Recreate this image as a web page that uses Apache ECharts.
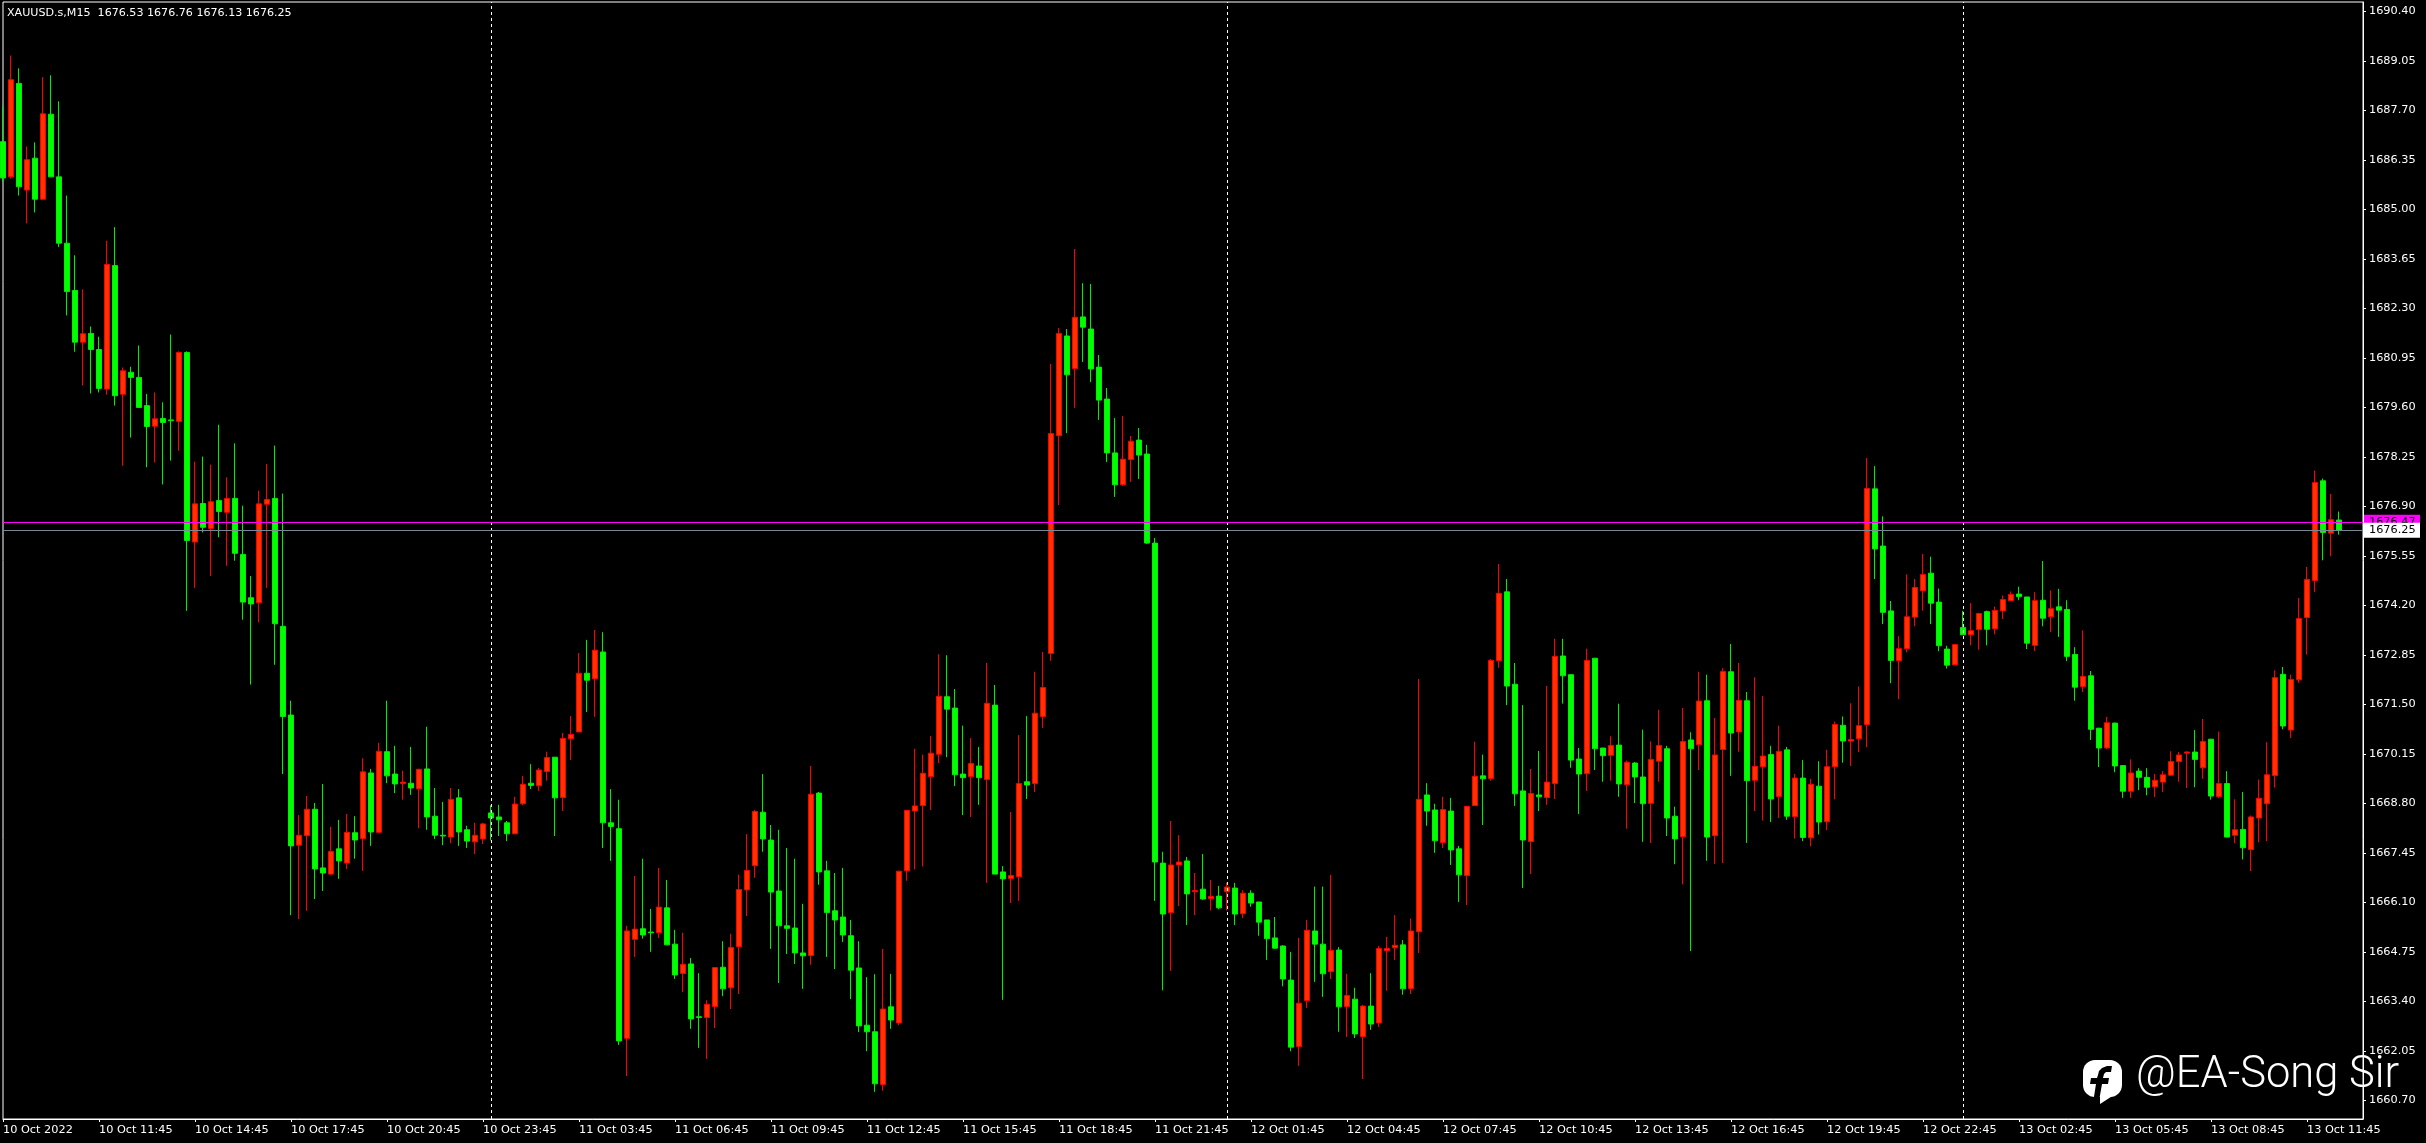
<!DOCTYPE html>
<html>
<head>
<meta charset="utf-8">
<style>html,body{margin:0;padding:0;background:#000}#c{width:2426px;height:1143px}</style>
<script src="https://cdn.jsdelivr.net/npm/echarts@6/dist/echarts.min.js"></script>
</head>
<body>
<div id="c"></div>
<script>
const tickLabels = ['10 Oct 2022','10 Oct 11:45','10 Oct 14:45','10 Oct 17:45','10 Oct 20:45','10 Oct 23:45','11 Oct 03:45','11 Oct 06:45','11 Oct 09:45','11 Oct 12:45','11 Oct 15:45','11 Oct 18:45','11 Oct 21:45','12 Oct 01:45','12 Oct 04:45','12 Oct 07:45','12 Oct 10:45','12 Oct 13:45','12 Oct 16:45','12 Oct 19:45','12 Oct 22:45','13 Oct 02:45','13 Oct 05:45','13 Oct 08:45','13 Oct 11:45'];
const priceTicks = [1660.70,1662.05,1663.40,1664.75,1666.10,1667.45,1668.80,1670.15,1671.50,1672.85,1674.20,1675.55,1676.90,1678.25,1679.60,1680.95,1682.30,1683.65,1685.00,1686.35,1687.70,1689.05,1690.40];
const opens = [1686.85,1685.89,1688.44,1685.53,1686.40,1685.28,1687.60,1685.89,1684.08,1682.79,
1681.38,1681.62,1681.18,1680.10,1683.47,1679.96,1680.56,1680.42,1679.65,1679.09,
1679.30,1679.26,1679.22,1681.10,1675.93,1676.98,1676.30,1677.06,1676.74,1677.12,
1675.59,1674.41,1674.27,1676.96,1677.12,1673.63,1671.21,1667.66,1667.92,1668.64,
1667.04,1666.87,1667.56,1667.17,1668.00,1667.84,1669.63,1668.01,1670.21,1669.60,
1669.34,1669.35,1669.20,1669.74,1668.45,1667.93,1667.88,1668.95,1668.08,1667.75,
1667.83,1668.54,1668.43,1668.27,1667.97,1668.79,1669.35,1669.28,1669.67,1670.06,
1668.96,1670.56,1670.75,1672.35,1672.20,1672.93,1668.27,1668.11,1662.39,1665.09,
1665.38,1665.29,1665.27,1665.95,1664.96,1664.16,1664.42,1662.98,1662.96,1663.26,
1664.33,1663.77,1664.89,1666.44,1667.10,1668.56,1667.80,1666.41,1665.46,1665.40,
1664.72,1664.65,1669.08,1666.96,1665.87,1665.70,1665.19,1664.31,1662.75,1662.57,
1661.13,1663.25,1662.81,1666.96,1668.59,1668.74,1669.53,1670.14,1671.71,1671.40,
1669.60,1669.53,1669.82,1669.45,1671.48,1666.93,1666.75,1666.80,1669.39,1669.34,
1671.17,1672.89,1678.83,1681.55,1680.66,1682.07,1681.74,1680.70,1679.83,1678.36,
1677.49,1678.18,1678.71,1678.33,1675.90,1667.17,1665.82,1667.12,1667.23,1666.39,
1666.46,1666.20,1666.27,1666.39,1666.49,1665.79,1666.35,1666.11,1665.62,1665.13,
1664.91,1663.98,1662.17,1663.42,1665.32,1664.96,1664.21,1664.80,1663.26,1663.46,
1662.44,1663.27,1662.81,1664.78,1664.86,1664.94,1663.75,1665.30,1669.03,1668.62,
1667.73,1668.59,1667.56,1666.83,1668.74,1669.55,1669.48,1672.69,1674.57,1672.05,
1669.14,1667.76,1669.03,1668.96,1669.34,1672.82,1672.31,1670.01,1669.61,1672.76,
1670.31,1670.11,1670.39,1669.31,1669.90,1669.52,1668.80,1669.95,1670.29,1668.45,
1667.89,1670.53,1670.40,1671.60,1667.92,1670.27,1672.39,1670.75,1671.60,1669.43,
1669.80,1670.13,1668.99,1670.26,1668.44,1669.49,1667.86,1669.27,1668.30,1669.80,
1670.93,1670.50,1670.56,1670.95,1677.38,1675.82,1674.05,1672.69,1673.02,1673.88,
1674.60,1675.08,1674.29,1673.01,1672.58,1673.60,1673.40,1673.54,1674.03,1673.56,
1674.05,1674.33,1674.51,1674.43,1673.11,1674.34,1673.89,1674.16,1674.09,1672.86,
1671.99,1672.28,1670.85,1670.31,1670.99,1669.83,1669.13,1669.68,1669.51,1669.25,
1669.38,1669.57,1669.94,1670.17,1670.20,1669.77,1670.55,1668.99,1669.34,1667.93,
1668.09,1667.54,1668.40,1668.79,1669.56,1672.32,1670.80,1672.17,1673.87,1674.88,
1677.60,1676.17,1676.53];
const closes = [1685.86,1688.54,1685.62,1686.36,1685.28,1687.61,1685.89,1684.08,1682.76,1681.38,
1681.61,1681.18,1680.12,1683.50,1679.92,1680.60,1680.42,1679.60,1679.08,1679.29,
1679.19,1679.24,1681.10,1675.97,1676.97,1676.33,1677.03,1676.76,1677.12,1675.62,
1674.29,1674.24,1676.97,1677.09,1673.70,1671.17,1667.64,1667.93,1668.64,1667.01,
1666.90,1667.49,1667.23,1668.01,1667.80,1669.66,1668.02,1670.22,1669.55,1669.33,
1669.38,1669.22,1669.73,1668.43,1667.93,1667.91,1668.91,1668.02,1667.77,1667.93,
1668.24,1668.40,1668.35,1667.97,1668.78,1669.32,1669.29,1669.71,1670.05,1668.95,
1670.57,1670.68,1672.35,1672.16,1672.98,1668.27,1668.17,1662.32,1665.32,1665.37,
1665.21,1665.27,1665.97,1664.94,1664.12,1664.41,1662.92,1662.96,1663.32,1664.32,
1663.74,1664.87,1666.45,1666.97,1668.58,1667.83,1666.38,1665.46,1665.39,1664.72,
1664.64,1669.05,1666.93,1665.82,1665.62,1665.21,1664.25,1662.73,1662.57,1661.15,
1663.19,1662.89,1666.95,1668.61,1668.73,1669.62,1670.17,1671.72,1671.37,1669.58,
1669.50,1669.89,1669.50,1671.53,1666.87,1666.74,1666.83,1669.34,1669.30,1671.26,
1671.96,1678.89,1681.62,1680.49,1682.06,1681.79,1680.65,1679.80,1678.36,1677.49,
1678.19,1678.68,1678.30,1675.90,1667.20,1665.78,1667.12,1667.20,1666.33,1666.42,
1666.19,1666.26,1665.95,1666.52,1665.78,1666.35,1666.08,1665.56,1665.11,1664.85,
1664.01,1662.15,1663.35,1665.34,1664.96,1664.15,1664.79,1663.25,1663.56,1662.51,
1663.27,1662.78,1664.84,1664.84,1664.93,1663.74,1665.32,1668.91,1668.59,1667.78,
1668.63,1667.53,1666.85,1668.72,1669.54,1669.47,1672.70,1674.53,1672.00,1669.06,
1667.80,1669.07,1668.98,1669.38,1672.81,1672.28,1669.98,1669.60,1672.70,1670.29,
1670.10,1670.38,1669.33,1669.92,1669.52,1668.79,1670.00,1670.38,1668.40,1667.83,
1670.49,1670.29,1671.59,1667.88,1670.12,1672.40,1670.72,1671.61,1669.42,1669.81,
1670.09,1668.92,1670.22,1668.45,1669.49,1667.87,1669.32,1668.29,1669.80,1670.95,
1670.50,1670.54,1670.92,1677.39,1675.74,1674.01,1672.70,1673.02,1673.89,1674.69,
1675.04,1674.26,1673.10,1672.57,1673.13,1673.40,1673.51,1673.98,1673.55,1674.06,
1674.36,1674.50,1674.44,1673.17,1674.33,1673.85,1674.11,1674.07,1672.81,1671.97,
1672.26,1670.82,1670.31,1671.00,1669.82,1669.13,1669.63,1669.51,1669.24,1669.43,
1669.58,1669.94,1670.12,1670.20,1670.00,1670.49,1669.00,1669.34,1667.88,1668.08,
1667.59,1668.43,1668.94,1669.58,1672.23,1670.91,1672.18,1673.84,1674.91,1677.55,
1676.19,1676.54,1676.25];
const lows = [1685.74,1685.84,1685.38,1684.62,1684.92,1685.25,1685.89,1683.98,1682.11,1681.12,
1680.20,1679.98,1680.01,1679.95,1679.65,1678.01,1678.78,1679.60,1677.97,1678.10,
1677.50,1678.15,1678.42,1674.05,1674.68,1676.19,1675.00,1676.06,1675.28,1675.42,
1673.81,1672.04,1673.74,1674.68,1672.58,1669.60,1665.75,1665.64,1665.87,1666.19,
1666.41,1666.85,1666.74,1667.01,1667.29,1666.96,1667.64,1668.01,1669.35,1669.08,
1668.90,1669.03,1668.12,1668.08,1667.83,1667.66,1667.71,1667.64,1667.58,1667.42,
1667.69,1667.79,1667.91,1667.77,1667.97,1668.75,1669.19,1669.14,1669.42,1667.91,
1668.59,1669.98,1670.75,1671.29,1671.16,1667.58,1667.23,1662.21,1661.36,1664.61,
1665.11,1664.75,1665.13,1664.94,1664.01,1663.65,1662.65,1662.13,1661.83,1662.67,
1663.54,1663.19,1663.60,1665.73,1666.77,1667.48,1664.83,1663.90,1664.69,1664.42,
1663.74,1664.40,1666.58,1664.61,1664.28,1665.02,1663.46,1662.56,1662.04,1660.93,
1660.96,1662.65,1662.75,1666.69,1667.00,1667.08,1668.62,1669.90,1670.06,1669.27,
1668.48,1668.43,1668.76,1666.63,1666.87,1663.44,1666.08,1666.14,1668.92,1669.11,
1670.86,1672.69,1676.94,1678.90,1679.59,1680.84,1680.29,1679.26,1678.11,1677.16,
1677.46,1677.57,1677.65,1675.88,1666.14,1663.70,1664.23,1666.00,1665.48,1665.75,
1666.17,1665.88,1665.91,1665.88,1665.48,1665.67,1665.98,1665.19,1664.53,1664.83,
1663.81,1662.04,1661.64,1663.22,1663.93,1663.52,1664.01,1662.57,1662.43,1662.40,
1661.28,1662.62,1662.70,1663.69,1664.53,1663.58,1663.60,1664.72,1668.19,1667.45,
1667.58,1667.12,1666.11,1666.03,1668.74,1668.21,1669.42,1672.50,1671.48,1668.73,
1666.49,1666.87,1668.59,1668.76,1668.92,1671.52,1669.77,1668.51,1669.14,1669.71,
1669.39,1669.42,1668.98,1668.11,1668.81,1667.75,1667.72,1669.39,1667.91,1667.14,
1666.59,1664.77,1669.71,1667.23,1667.15,1667.17,1669.55,1670.21,1667.72,1668.59,
1668.33,1668.29,1668.40,1668.35,1667.84,1667.77,1667.63,1667.95,1668.07,1668.91,
1669.91,1669.82,1670.20,1670.33,1674.92,1673.69,1672.08,1671.64,1672.92,1673.63,
1674.06,1673.69,1672.95,1672.48,1672.58,1673.40,1673.11,1672.99,1673.11,1673.41,
1673.83,1674.32,1674.34,1673.01,1672.95,1673.63,1673.47,1673.34,1672.68,1671.60,
1671.84,1670.53,1669.79,1670.28,1669.65,1668.95,1668.95,1669.16,1669.02,1668.97,
1669.11,1669.55,1669.39,1669.22,1669.24,1669.47,1668.90,1668.94,1667.88,1667.71,
1667.27,1666.95,1667.74,1667.77,1669.23,1670.82,1670.58,1672.09,1672.86,1674.56,
1675.43,1675.54,1676.13];
const highs = [1687.81,1689.20,1688.85,1686.72,1686.83,1688.61,1688.66,1687.95,1685.38,1683.75,
1682.82,1681.81,1681.53,1684.15,1684.52,1680.69,1680.71,1681.29,1679.97,1680.01,
1679.74,1681.59,1681.13,1681.13,1678.12,1678.26,1678.04,1679.13,1677.69,1678.62,
1676.92,1675.00,1677.33,1678.06,1678.56,1677.25,1671.60,1668.48,1669.00,1668.81,
1669.33,1668.16,1668.35,1668.51,1668.45,1670.03,1669.74,1670.45,1671.60,1670.37,
1669.69,1670.34,1669.74,1670.89,1669.22,1668.84,1669.22,1669.19,1668.19,1668.27,
1668.27,1668.75,1668.76,1668.32,1668.98,1669.55,1669.87,1669.77,1670.21,1670.06,
1670.72,1671.18,1672.90,1673.26,1673.53,1673.47,1669.19,1668.90,1665.46,1666.82,
1667.29,1665.92,1667.04,1666.71,1665.35,1665.27,1664.58,1664.17,1663.43,1664.32,
1665.04,1665.24,1666.86,1667.96,1668.62,1669.60,1668.21,1668.08,1667.58,1667.29,
1666.06,1669.82,1669.11,1667.23,1666.90,1667.04,1665.62,1665.04,1664.06,1664.14,
1664.83,1664.15,1666.96,1668.62,1670.29,1670.13,1670.64,1672.87,1672.84,1671.92,
1670.92,1670.58,1670.34,1672.63,1672.03,1667.09,1668.56,1670.66,1671.18,1672.39,
1672.93,1680.79,1681.77,1681.74,1683.92,1682.99,1682.97,1681.03,1680.13,1679.31,
1679.37,1678.82,1679.04,1678.58,1676.04,1667.48,1668.32,1667.93,1667.34,1666.90,
1667.42,1666.71,1666.55,1666.64,1666.63,1666.43,1666.43,1666.11,1665.62,1665.70,
1664.93,1664.75,1665.13,1665.62,1666.53,1666.53,1666.85,1664.88,1664.15,1663.77,
1663.30,1664.17,1664.91,1665.16,1665.75,1665.07,1665.66,1672.19,1669.35,1668.79,
1668.98,1668.95,1667.64,1668.73,1670.48,1670.13,1672.74,1675.33,1674.92,1672.63,
1671.48,1669.74,1670.23,1672.00,1673.29,1673.29,1672.31,1670.31,1673.02,1672.76,
1670.31,1670.63,1671.52,1669.97,1669.93,1670.81,1670.49,1671.35,1670.37,1668.71,
1671.40,1670.74,1672.39,1672.31,1671.13,1672.49,1673.15,1672.63,1671.84,1672.24,
1671.73,1670.37,1670.92,1670.34,1669.60,1669.98,1669.47,1669.95,1670.26,1671.03,
1671.17,1671.53,1671.99,1678.22,1678.00,1676.63,1674.32,1673.36,1675.05,1674.92,
1675.60,1675.53,1674.66,1673.10,1673.14,1674.05,1674.26,1674.00,1674.06,1674.17,
1674.47,1674.58,1674.71,1674.43,1674.56,1675.41,1674.61,1674.65,1674.34,1673.06,
1673.52,1672.41,1670.86,1671.16,1671.00,1669.84,1670.00,1669.76,1669.76,1669.60,
1669.68,1670.22,1670.20,1670.22,1670.80,1671.10,1670.56,1670.76,1669.68,1668.91,
1669.11,1668.47,1669.45,1670.47,1672.43,1672.52,1672.31,1674.40,1675.25,1677.88,
1677.66,1677.24,1676.76];
const separatorBars = [61,153,245];
const askPrice = 1676.47;
const bidPrice = 1676.25;
const headerText = 'XAUUSD.s,M15  1676.53 1676.76 1676.13 1676.25';

const FONT = '"DejaVu Sans"';
const FS = 11.3;
const barCount = 296;
const categories = [];
for (let i = 0; i < barCount; i++) categories.push(i % 12 === 0 && tickLabels[i / 12] ? tickLabels[i / 12] : '');
const candles = opens.map((o, i) => [o, closes[i], lows[i], highs[i]]);
const priceTag = (price, bg) => ({
  show: true, position: 'end', distance: 1, formatter: price.toFixed(2), color: '#000', backgroundColor: bg,
  fontFamily: FONT, fontSize: FS, width: 51, height: 14, lineHeight: 14, padding: [1, 0, 0, 5], align: 'left', verticalAlign: 'middle'
});

const chart = echarts.init(document.getElementById('c'), null, {renderer: 'canvas'});
chart.setOption({
  animation: false,
  backgroundColor: '#000',
  title: {text: headerText, left: 7, top: 8, padding: 0, textStyle: {color: '#fff', fontSize: 11.1, fontWeight: 'normal', fontFamily: FONT}},
  grid: {show: true, left: 3, top: 2, width: 2360, height: 1117, borderColor: '#fff', borderWidth: 1, backgroundColor: '#000'},
  xAxis: {
    type: 'category', data: categories, boundaryGap: false,
    axisLine: {lineStyle: {color: '#fff', width: 1}},
    axisTick: {show: true, interval: 11, length: 3, lineStyle: {color: '#fff'}},
    axisLabel: {interval: 11, align: 'left', margin: 6, color: '#fff', fontSize: FS, fontFamily: FONT, hideOverlap: false, showMinLabel: true},
    splitLine: {show: false}
  },
  yAxis: {
    type: 'value', position: 'right', min: 1660.19, max: 1690.66, scale: true,
    axisLine: {show: true, lineStyle: {color: '#fff', width: 1}},
    axisTick: {show: true, length: 3, customValues: priceTicks, lineStyle: {color: '#fff'}},
    axisLabel: {customValues: priceTicks, margin: 6, padding: [2, 0, 0, 0], color: '#fff', fontSize: FS, fontFamily: FONT, formatter: v => v.toFixed(2), showMinLabel: true, showMaxLabel: true},
    splitLine: {show: false}
  },
  series: [
    {
      type: 'line', data: [], z: 1, silent: true,
      markLine: {
        silent: true, symbol: 'none', animation: false,
        data: [
          ...separatorBars.map(b => ({xAxis: b, label: {show: false}, lineStyle: {color: '#fff', type: [3, 3], width: 1}})),
          {yAxis: askPrice, lineStyle: {color: '#ff00ff', type: 'solid', width: 1}, label: priceTag(askPrice, '#ff00ff')},
          {yAxis: bidPrice, lineStyle: {color: '#778899', type: 'solid', width: 1}, label: priceTag(bidPrice, '#fff')}
        ]
      }
    },
    {
      type: 'candlestick', data: candles, z: 3, barWidth: 5, clip: true, silent: true,
      itemStyle: {color: '#ff3300', color0: '#00ff00', borderColor: '#ff0000', borderColor0: '#00ee00', borderWidth: 1}
    }
  ],
  graphic: [
    {type: 'group', z: 100, children: [
      {type: 'rect', shape: {x: 2083, y: 1060, width: 39, height: 37, r: 12}, style: {fill: '#fff'}},
      {type: 'polygon', shape: {points: [[2100, 1095], [2100, 1104], [2114, 1095]]}, style: {fill: '#fff'}},
      {type: 'polygon', shape: {points: [[2112, 1066], [2107, 1066], [2102, 1068], [2099, 1071], [2098, 1075], [2097, 1078], [2091, 1078], [2090, 1084], [2096, 1084], [2093, 1103], [2099, 1101], [2102, 1084], [2108, 1084], [2109, 1078], [2103, 1078], [2104, 1074], [2106, 1072], [2111, 1072]]}, style: {fill: '#000'}},
      {type: 'text', x: 2136, y: 1054, style: {text: '@EA-Song Sir', fill: '#fff', font: '300 43.5px Roboto'}}
    ]}
  ]
});
</script>
</body>
</html>
